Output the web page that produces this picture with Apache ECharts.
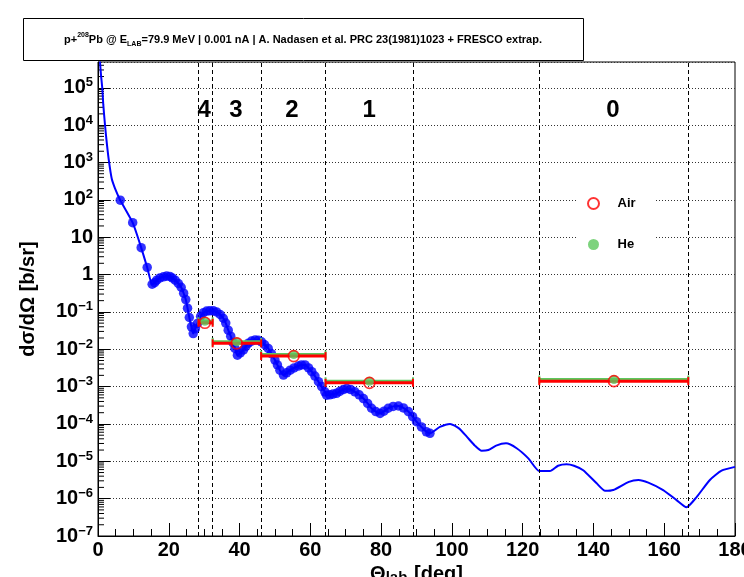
<!DOCTYPE html>
<html><head><meta charset="utf-8">
<script src="https://cdn.jsdelivr.net/npm/echarts@6/dist/echarts.min.js"></script>
<style>html,body{margin:0;padding:0;background:#fff}#c{width:744px;height:577px}</style>
</head><body><div id="c"></div>
<script>
// ---- data ----
// FRESCO curve before the first data point (deg, b/sr)
const leadAngle = [0.55, 0.85, 1.22, 1.5, 1.98, 2.54, 3.11, 3.87, 4.8];
const leadXS    = [5.0e5, 2.19e5, 9.55e4, 3.47e4, 1.0e4, 2950, 1050, 372, 204];
// measured angular distribution (blue dots)
const dataAngle = [6.3, 9.8, 12.2, 13.9, 15.3, 16.0, 16.6, 17.5, 18.5, 19.4, 20.3, 21.0, 21.8, 22.7, 23.5, 24.2, 24.8, 25.3, 25.8, 26.4, 26.9, 27.5, 28.1, 29.0, 29.8, 30.7, 31.6, 32.6, 33.5, 34.5, 35.4, 36.1, 36.8, 37.5, 38.1, 38.7, 39.4, 40.2, 41.1, 41.8, 42.5, 43.4, 44.4, 45.3, 46.2, 47.1, 48.1, 49.0, 50.0, 50.7, 51.4, 52.4, 53.3, 54.3, 55.4, 56.6, 57.5, 58.5, 59.5, 60.4, 61.3, 62.3, 63.2, 64.1, 64.6, 65.5, 66.4, 67.4, 68.3, 69.3, 70.3, 71.4, 72.6, 73.8, 75.0, 76.2, 77.3, 78.5, 79.7, 80.8, 82.0, 83.4, 84.9, 86.3, 87.7, 88.9, 90.0, 91.4, 92.8, 93.8];
const dataXS = [97.7, 24.5, 5.25, 1.55, 0.550, 0.603, 0.708, 0.813, 0.871, 0.912, 0.891, 0.813, 0.708, 0.575, 0.457, 0.316, 0.214, 0.126, 0.0708, 0.0398, 0.0263, 0.0355, 0.0490, 0.0759, 0.0955, 0.105, 0.107, 0.107, 0.100, 0.0851, 0.0676, 0.0501, 0.0324, 0.0224, 0.0151, 0.0105, 0.00692, 0.00794, 0.00955, 0.0120, 0.0145, 0.0166, 0.0178, 0.0174, 0.0158, 0.0132, 0.0105, 0.00759, 0.00513, 0.00380, 0.00275, 0.00204, 0.00234, 0.00275, 0.00316, 0.00355, 0.00380, 0.00380, 0.00316, 0.00251, 0.00191, 0.00135, 0.00100, 0.000724, 0.000589, 0.000603, 0.000631, 0.000661, 0.000741, 0.000832, 0.000891, 0.000832, 0.000724, 0.000603, 0.000479, 0.000355, 0.000263, 0.000214, 0.000191, 0.000219, 0.000263, 0.000295, 0.000302, 0.000269, 0.000214, 0.000158, 0.000115, 0.0000832, 0.0000617, 0.0000562];
// FRESCO extrapolation beyond the data
const tailAngle = [96.6, 99.5, 102, 104.2, 106.5, 108.4, 110.3, 112.5, 115.3, 118.3, 121.6, 124.7, 127.7, 130, 132.4, 134.5, 137.1, 140.9, 143.3, 145.6, 150, 152.7, 155.5, 159.7, 163.5, 166.3, 169.2, 172.9, 176.2, 180];
const tailXS    = [8.32e-5, 1.0e-4, 7.59e-5, 4.57e-5, 2.63e-5, 1.91e-5, 2.0e-5, 2.63e-5, 3.02e-5, 2.24e-5, 1.20e-5, 5.50e-6, 5.50e-6, 7.59e-6, 8.32e-6, 7.59e-6, 5.75e-6, 2.57e-6, 1.62e-6, 1.70e-6, 2.82e-6, 3.16e-6, 2.69e-6, 1.70e-6, 9.12e-7, 5.89e-7, 1.12e-6, 3.16e-6, 5.62e-6, 7.08e-6];
// angular bins (detector rings 4..0)
const binLow    = [28.4, 32.4, 46.1, 64.3, 124.7];
const binHigh   = [32.4, 46.1, 64.3, 89.0, 166.8];
const binCenter = [30.2, 39.2, 55.3, 76.7, 145.8];
const airXS     = [0.051, 0.0144, 0.00656, 0.00126, 0.00140];
const heXS      = [0.0561, 0.0158, 0.0072, 0.00139, 0.00154];
const boundaries = [28.4, 32.4, 46.1, 64.3, 89.0, 124.7, 166.8];
const regionLabels = ['4', '3', '2', '1', '0'];
const regionLabelX = [30.0, 39.0, 54.8, 76.6, 145.5];
const regionLabelY = 25100;
const yMinDecade = -7, yMaxValue = 4.9e5;
const xTicks = [0, 20, 40, 60, 80, 100, 120, 140, 160, 180];

// ---- build ----
const L = v => Math.log10(v);
const FONT = '"Liberation Sans", Arial, Helvetica, sans-serif';
const curve = [];
leadAngle.forEach((a, i) => curve.push([a, L(leadXS[i])]));
dataAngle.forEach((a, i) => curve.push([a, L(dataXS[i])]));
tailAngle.forEach((a, i) => curve.push([a, L(tailXS[i])]));
const dots = dataAngle.map((a, i) => [a, L(dataXS[i])]);
const airBars = binLow.map((lo, i) => [lo, binHigh[i], L(airXS[i])]);
const heBars  = binLow.map((lo, i) => [lo, binHigh[i], L(heXS[i])]);
const airPts = binCenter.map((c, i) => [c, L(airXS[i])]);
const hePts  = binCenter.map((c, i) => [c, L(heXS[i])]);
const yMax = L(yMaxValue);
const minorY = [];
for (let k = yMinDecade; k <= 5; k++) for (let m = 2; m <= 9; m++) { const v = L(m) + k; if (v < yMax) minorY.push([0, v]); }
const labelPts = regionLabelX.map((x, i) => [x, L(regionLabelY), i]);

function barRenderer(color, lw) {
  return function (params, api) {
    const a = api.coord([api.value(0), api.value(2)]);
    const b = api.coord([api.value(1), api.value(2)]);
    const st = { stroke: color, lineWidth: lw };
    return { type: 'group', children: [
      { type: 'line', shape: { x1: a[0], y1: a[1], x2: b[0], y2: b[1] }, style: st },
      { type: 'line', shape: { x1: a[0], y1: a[1] - 4, x2: a[0], y2: a[1] + 4 }, style: { stroke: color, lineWidth: 2 } },
      { type: 'line', shape: { x1: b[0], y1: b[1] - 4, x2: b[0], y2: b[1] + 4 }, style: { stroke: color, lineWidth: 2 } }
    ] };
  };
}

const chart = echarts.init(document.getElementById('c'), null, { renderer: 'canvas' });
chart.setOption({
  animation: false,
  backgroundColor: '#fff',
  grid: { left: 98, right: 9, top: 62, bottom: 41, show: true, borderColor: '#000', borderWidth: 1, backgroundColor: '#fff', containLabel: false, outerBoundsMode: 'none' },
  xAxis: {
    type: 'value', min: xTicks[0], max: xTicks[xTicks.length - 1], interval: xTicks[1] - xTicks[0],
    axisLine: { onZero: false, lineStyle: { color: '#000', width: 1 } },
    axisTick: { inside: true, length: 13, lineStyle: { color: '#000' } },
    minorTick: { show: true, splitNumber: 4, length: 7, lineStyle: { color: '#000' } },
    splitLine: { show: false },
    axisLabel: { margin: 4, fontSize: 20, fontWeight: 'bold', color: '#000', fontFamily: FONT, hideOverlap: false },
    name: '{a|Θ}{s|lab}  {a|[deg]}', nameLocation: 'middle', nameGap: 26,
    nameTextStyle: { rich: { a: { fontSize: 20, fontWeight: 'bold', fontFamily: FONT, color: '#000' }, s: { fontSize: 15, fontWeight: 'bold', fontFamily: FONT, color: '#000', verticalAlign: 'bottom' } } }
  },
  yAxis: {
    type: 'value', min: yMinDecade, max: yMax, interval: 1,
    axisLine: { onZero: false, lineStyle: { color: '#000', width: 1 } },
    axisTick: { inside: true, length: 12, lineStyle: { color: '#000' } },
    splitLine: { show: true, lineStyle: { color: '#333', width: 1, type: [1, 2] } },
    axisLabel: {
      margin: 5, color: '#000', showMaxLabel: false,
      formatter: function (v) {
        if (Math.abs(v - Math.round(v)) > 1e-6) return '';
        v = Math.round(v);
        if (v === 0) return '{b|1}';
        if (v === 1) return '{b|10}';
        return '{b|10}{s|' + (v < 0 ? '\u2212' + (-v) : v) + '}';
      },
      rich: {
        b: { fontSize: 20, fontWeight: 'bold', fontFamily: FONT, color: '#000', lineHeight: 23 },
        s: { fontSize: 13, fontWeight: 'bold', fontFamily: FONT, color: '#000', verticalAlign: 'top', lineHeight: 15 }
      }
    },
    name: 'd\u03C3/d\u03A9 [b/sr]', nameLocation: 'middle', nameGap: 60, nameRotate: 90,
    nameTextStyle: { fontSize: 20, fontWeight: 'bold', fontFamily: FONT, color: '#000' }
  },
  legend: {
    data: ['Air', 'He'], orient: 'vertical', left: 577, top: 183, backgroundColor: '#fff',
    padding: [14, 20, 14, 10], itemGap: 28, itemWidth: 26, itemHeight: 11,
    textStyle: { fontSize: 13, fontWeight: 'bold', fontFamily: FONT, color: '#000', padding: [0, 0, 0, 6] }
  },
  graphic: [
    { type: 'rect', left: 23, top: 18, shape: { width: 560, height: 42 }, style: { fill: '#fff', stroke: '#000', lineWidth: 1 }, z: 10 },
    { type: 'text', x: 303, y: 40, z: 11, style: {
      text: '{t|p+}{u|208}{t|Pb @ E}{d|LAB}{t|=79.9 MeV | 0.001 nA | A. Nadasen et al. PRC 23(1981)1023 + FRESCO extrap.}',
      align: 'center', verticalAlign: 'middle',
      rich: {
        t: { fontSize: 11, fontWeight: 'bold', fontFamily: FONT, fill: '#000', lineHeight: 16 },
        u: { fontSize: 7, fontWeight: 'bold', fontFamily: FONT, fill: '#000', verticalAlign: 'top', lineHeight: 8 },
        d: { fontSize: 7, fontWeight: 'bold', fontFamily: FONT, fill: '#000', verticalAlign: 'bottom', lineHeight: 8 }
      } } }
  ],
  series: [
    { type: 'custom', name: 'minorY', silent: true, data: minorY, encode: { x: 0, y: 1 }, z: 3,
      renderItem: function (p, api) { const c = api.coord([api.value(0), api.value(1)]);
        return { type: 'line', shape: { x1: c[0], y1: c[1], x2: c[0] + 6, y2: c[1] }, style: { stroke: '#000', lineWidth: 1 } }; } },
    { type: 'line', name: 'FRESCO', data: curve, showSymbol: false, symbol: 'none', smooth: 0.2,
      lineStyle: { color: '#0000ff', width: 2 }, clip: true, z: 4,
      markLine: { silent: true, symbol: 'none', label: { show: false },
        lineStyle: { color: '#000', width: 1, type: [4, 3] },
        data: boundaries.map(b => ({ xAxis: b })) } },
    { type: 'scatter', name: 'data', data: dots, symbol: 'circle', symbolSize: 9.5, itemStyle: { color: '#0000ff' }, z: 5 },
    { type: 'custom', name: 'heBars', data: heBars, encode: { x: [0, 1], y: 2 }, renderItem: barRenderer('#5cc85c', 3), z: 6 },
    { type: 'custom', name: 'airBars', data: airBars, encode: { x: [0, 1], y: 2 }, renderItem: barRenderer('#ff0000', 3), z: 7 },
    { type: 'scatter', name: 'He', data: hePts, symbol: 'circle', symbolSize: 9, itemStyle: { color: '#5cc85c' }, z: 8 },
    { type: 'scatter', name: 'Air', data: airPts, symbol: 'circle', symbolSize: 11, itemStyle: { color: 'rgba(255,255,255,0)', borderColor: '#ff0000', borderWidth: 1.6 }, z: 9 },
    { type: 'custom', name: 'labels', data: labelPts, encode: { x: 0, y: 1 }, z: 10,
      renderItem: function (p, api) { const c = api.coord([api.value(0), api.value(1)]);
        return { type: 'text', x: c[0], y: c[1], style: { text: regionLabels[api.value(2)], fill: '#000', fontSize: 24, fontWeight: 'bold', fontFamily: FONT, align: 'center', verticalAlign: 'middle' } }; } }
  ]
});
</script></body></html>
